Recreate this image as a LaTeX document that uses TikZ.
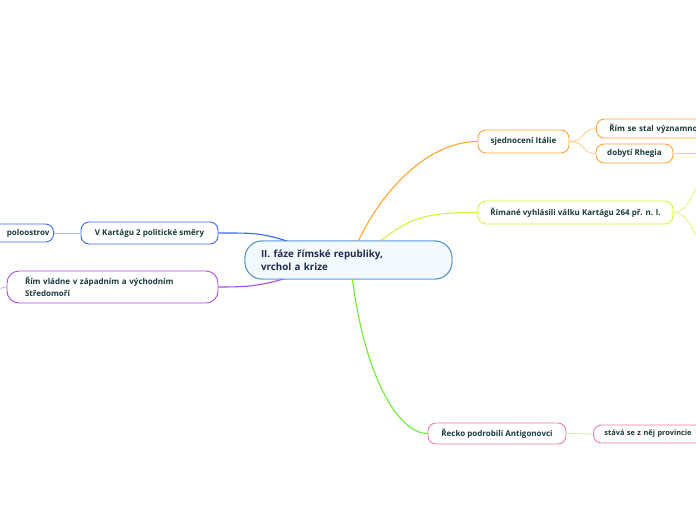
\documentclass[tikz,border=0pt]{standalone}
\usepackage{fontspec}
\setmainfont{Open Sans}
\usetikzlibrary{calc}
\definecolor{ctrB}{HTML}{4A8FD0}
\definecolor{ctrF}{HTML}{F4F9FE}
\definecolor{txt}{HTML}{1B3A3A}
\definecolor{ctrT}{HTML}{1E2B4C}
\definecolor{orB}{HTML}{FFA52E}
\definecolor{orL}{HTML}{FFCB85}
\definecolor{ygB}{HTML}{D6F23A}
\definecolor{ygL}{HTML}{E2F57A}
\definecolor{grB}{HTML}{6CEB36}
\definecolor{grL}{HTML}{C4F2A6}
\definecolor{pkB}{HTML}{F07CA3}
\definecolor{blB}{HTML}{3A68EC}
\definecolor{blL}{HTML}{A3BBF5}
\definecolor{puB}{HTML}{A54CE8}
\definecolor{puL}{HTML}{D6A8F2}
\tikzset{
  box/.style={draw, fill=white, rounded corners=8pt, line width=0.9pt, text=txt,
    font=\fontsize{8}{10}\selectfont\bfseries, inner sep=0pt, align=center},
  ctrbox/.style={box, draw=ctrB, fill=ctrF, rounded corners=17pt, minimum width=207pt, minimum height=38pt,
    text=ctrT, font=\fontsize{9.8}{13}\selectfont\bfseries, align=left, text width=175pt},
  conn/.style={line width=1.1pt},
  sub/.style={line width=0.8pt},
}
\begin{document}
\begin{tikzpicture}[x=1pt,y=-1pt]
\useasboundingbox (0,0) rectangle (696,520);
% nodes
\node[ctrbox] (ctr) at (348.5,260) {II. fáze římské republiky,\\vrchol a krize};
\node[box, draw=orB, minimum width=91pt, minimum height=23pt] (sjed) at (523.5,141.5) {sjednocení Itálie};
\node[box, draw=orB, anchor=west, minimum height=19pt, text width=150pt, align=left, inner xsep=13pt] (rim) at (596,128.5) {Řím se stal významnou};
\node[box, draw=orB, minimum width=77pt, minimum height=19pt] (dob) at (634.5,153.5) {dobytí Rhegia};
\node[box, draw=ygB, minimum width=195pt, minimum height=23pt] (rimane) at (575.5,212.5) {Římané vyhlásili válku Kartágu 264 př. n. l.};
\node[box, draw=blB, minimum width=137pt, minimum height=22pt] (kart) at (149.5,233) {V Kartágu 2 politické směry};
\node[box, draw=blB, anchor=east, minimum height=18pt, text width=60pt, align=right, inner xsep=4pt] (polo) at (54,233) {poloostrov};
\node[box, draw=puB, rounded corners=12pt, minimum width=211pt, minimum height=32pt, align=left, text width=175pt,
  font=\fontsize{8}{11.5}\selectfont\bfseries] (rimvl) at (112.5,287) {Řím vládne v západním a východním\\Středomoří};
\node[box, draw=pkB, minimum width=138pt, minimum height=21pt] (recko) at (497,433.5) {Řecko podrobili Antigonovci};
\node[box, draw=pkB, anchor=west, minimum height=18pt, text width=130pt, align=left, inner xsep=11pt,
  font=\fontsize{7.4}{9}\selectfont\bfseries] (stava) at (593,434) {stává se z něj provincie};
% free ends
\coordinate (dobE) at (700,153.5);
\coordinate (ygU) at (702,178);
\coordinate (ygD) at (702,246);
\coordinate (puE) at (-4,289);
\coordinate (oS) at ($(ctr.north)+(10,0)$);
\coordinate (yS) at ($(ctr.north)+(32,0)$);
\coordinate (gS) at ($(ctr.south)+(4,0)$);
\coordinate (bS) at ($(ctr.north west)+(47,2)$);
\coordinate (pS) at ($(ctr.south west)+(45,-2)$);
% main connectors
\draw[conn, orB] (oS) .. controls +(28,-58) and +(-45,0) .. (sjed.west);
\draw[conn, ygB] (yS) .. controls +(30,-22) and +(-55,0) .. (rimane.west);
\draw[conn, grB] (gS) .. controls +(12,95) and +(-30,0) .. (recko.west);
\draw[conn, blB] (bS) .. controls +(-30,-10) and +(35,0) .. (kart.east);
\draw[conn, puB] (pS) .. controls +(-30,8) and +(35,0) .. (rimvl.east);
% sub connectors
\draw[sub, orL] (sjed.east) .. controls +(16,0) and +(-14,0) .. (rim.west);
\draw[sub, orL] (sjed.east) .. controls +(16,0) and +(-14,0) .. (dob.west);
\draw[sub, orL] (dob.east) -- (dobE);
\draw[sub, ygL] (rimane.east) .. controls +(16,0) and +(-8,10) .. (ygU);
\draw[sub, ygL] (rimane.east) .. controls +(16,0) and +(-8,-10) .. (ygD);
\draw[sub, blL] (polo.east) -- (kart.west);
\draw[sub, puL] (puE) -- (rimvl.west);
\draw[sub, grL] (recko.east) -- (stava.west);
% central node again, on top of the connector ends
\node[ctrbox] at (348.5,260) {II. fáze římské republiky,\\vrchol a krize};
\end{tikzpicture}
\end{document}
